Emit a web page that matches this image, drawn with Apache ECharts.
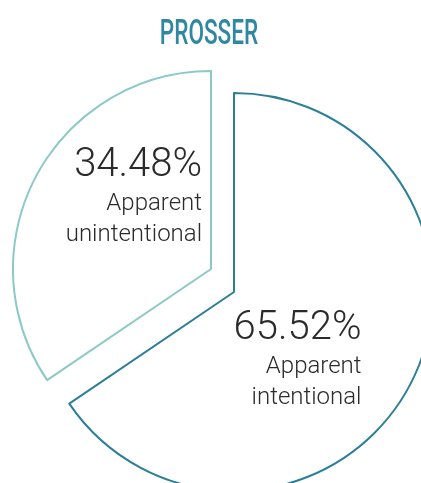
<!DOCTYPE html>
<html>
<head>
<meta charset="utf-8">
<script src="https://cdn.jsdelivr.net/npm/echarts@6/dist/echarts.min.js"></script>
<style>
  html, body { margin: 0; padding: 0; background: #fff; }
  #chart { width: 421px; height: 483px; }
</style>
</head>
<body>
<div id="chart"></div>
<script>
// 数据
var titleText = 'PROSSER';
var categories = ['Apparent\nintentional', 'Apparent\nunintentional'];
var shares = [65.52, 34.48];
var lineColors = ['#2b7f97', '#8cc9c9'];

var chart = echarts.init(document.getElementById('chart'));

// 每个扇区单独一个 series，以便分别偏移圆心（爆炸效果）
function sliceSeries(idx, center, radius, shift) {
  return {
    type: 'pie',
    silent: true,
    startAngle: 90,
    clockwise: true,
    center: center,
    radius: radius,
    animation: false,
    emphasis: { disabled: true },
    labelLine: { show: false },
    labelLayout: { dx: shift[0], dy: shift[1] },
    data: shares.map(function (v, i) {
      if (i !== idx) {
        return {
          value: v,
          itemStyle: { color: 'rgba(0,0,0,0)', borderWidth: 0 },
          label: { show: false }
        };
      }
      var lines = categories[i].split('\n');
      return {
        value: v,
        name: categories[i],
        itemStyle: { color: '#fff', borderColor: lineColors[i], borderWidth: 2 },
        label: {
          show: true,
          position: 'inside',
          formatter: '{p|' + v.toFixed(2) + '%}\n' + lines.map(function (s) { return '{n|' + s + '}'; }).join('\n')
        }
      };
    }),
    label: {
      color: '#2b2b2b',
      fontFamily: 'Roboto',
      rich: {
        p: { fontFamily: 'Roboto', fontWeight: 300, fontSize: 40, lineHeight: 44, align: 'right', color: '#2b2b2b' },
        n: { fontFamily: 'Roboto', fontWeight: 300, fontSize: 24, lineHeight: 31, align: 'right', color: '#2b2b2b' }
      }
    }
  };
}

var option = {
  backgroundColor: '#fff',
  graphic: [{
    type: 'text',
    x: 209,
    y: 18,
    scaleX: 0.645,
    style: {
      text: titleText,
      fontFamily: 'Roboto',
      fontWeight: 500,
      fontSize: 35,
      fill: '#2f87a1',
      textAlign: 'center',
      textVerticalAlign: 'top'
    }
  }],
  series: [
    sliceSeries(0, [234, 292], 199, [-27, 20]),
    sliceSeries(1, [211, 269], 198, [13, -24])
  ]
};

chart.setOption(option);
window.addEventListener('resize', function () {
  chart.resize();
});
</script>
</body>
</html>
